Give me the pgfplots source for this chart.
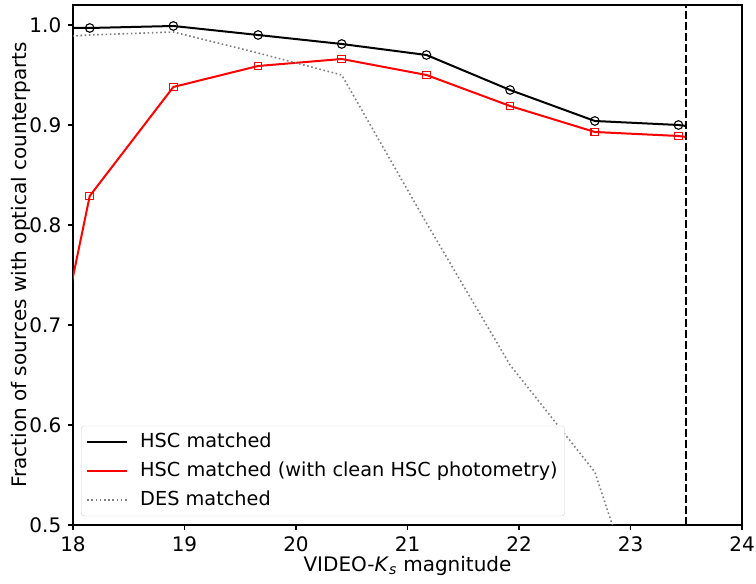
\documentclass[border=0pt]{standalone}
\usepackage{pgfplots}
\pgfplotsset{compat=1.18}
\usepackage{fontspec}
\setmainfont{DejaVu Sans}
\begin{document}
\fontsize{20bp}{24bp}\selectfont
\begin{tikzpicture}
\begin{axis}[
  scale only axis,
  width=669bp, height=520bp,
  xmin=18, xmax=24, ymin=0.5, ymax=1.02,
  xtick={18,19,20,21,22,23,24},
  ytick={0.5,0.6,0.7,0.8,0.9,1.0},
  yticklabel style={/pgf/number format/.cd, fixed, fixed zerofill, precision=1},
  /pgf/number format/assume math mode=true,
  tick align=outside, tick pos=left,
  major tick length=4.9bp,
  every tick/.style={black, line width=1.1bp},
  axis line style={line width=1.1bp},
  ticklabel style={font=\fontsize{20bp}{24bp}\selectfont},
  label style={font=\fontsize{20bp}{24bp}\selectfont},
  xlabel={VIDEO-\textit{K}\textsubscript{\textit{s}} magnitude},
  ylabel={Fraction of sources with optical counterparts},
  xlabel style={at={(axis description cs:0.5,-0.079)}, anchor=center},
  ylabel style={at={(axis description cs:-0.078,0.5)}, anchor=center, rotate=0},
  legend cell align=left,
  legend image code/.code={\draw[#1] (0bp,0bp) -- (40bp,0bp); \path (50bp,0bp);},
  legend style={at={(0.012,0.017)}, anchor=south west, draw=black!18, rounded corners=3bp,
    font=\fontsize{19.3bp}{23bp}\selectfont, row sep=7.5bp, inner xsep=5bp, inner ysep=5bp},
]
\addplot[black, line width=2bp, mark=o, mark size=4.3bp, mark indices={1,2,3,4,5,6,7,8},
  mark options={line width=1.1bp}] coordinates {
  (17.39,0.997) (18.15,0.997) (18.90,0.999) (19.66,0.990) (20.41,0.981)
  (21.17,0.970) (21.92,0.935) (22.68,0.904) (23.43,0.900) (23.50,0.899)
};
\addlegendentry{HSC matched}
\addplot[red, line width=2bp, mark=square, mark size=3.8bp, mark indices={1,2,3,4,5,6,7,8},
  mark options={line width=1.1bp}] coordinates {
  (17.39,0.420) (18.15,0.829) (18.90,0.938) (19.66,0.959) (20.41,0.966)
  (21.17,0.950) (21.92,0.919) (22.68,0.893) (23.43,0.889) (23.50,0.888)
};
\addlegendentry{HSC matched (with clean HSC photometry)}
\addplot[gray, line width=1.6bp, dash pattern=on 1.6bp off 2.6bp] coordinates {
  (17.39,0.985) (18.15,0.990) (18.90,0.993) (19.66,0.972) (20.41,0.950)
  (21.17,0.802) (21.92,0.660) (22.68,0.553) (23.43,0.300)
};
\addlegendentry{DES matched}
\draw[black, line width=2bp, dash pattern=on 7.7bp off 3.3bp] (axis cs:23.5,0.5) -- (axis cs:23.5,1.02);
\end{axis}
\pgfresetboundingbox
\path[use as bounding box] ([xshift=-73bp,yshift=-59bp]current axis.south west) rectangle ([xshift=14bp,yshift=5bp]current axis.north east);
\end{tikzpicture}
\end{document}
